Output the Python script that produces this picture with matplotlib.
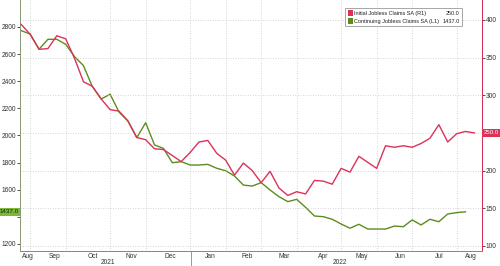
import matplotlib
matplotlib.use("Agg")
import matplotlib.pyplot as plt
import pandas as pd

# weekly data, initial claims (R1) and continuing claims (L1), thousands
initial_claims = [394, 381, 361, 362, 379, 375, 349, 318, 312, 295,
                  281, 279, 266, 244, 241, 229, 228, 220, 212, 224,
                  238, 240, 223, 214, 194, 210, 200, 184, 199, 177,
                  167, 172, 169, 187, 186, 182, 203, 198, 219, 211,
                  203, 233, 231, 233, 231, 236, 243, 261, 238, 249,
                  252, 250]
continuing_claims = [2773, 2748, 2636, 2709, 2709, 2672, 2581, 2515, 2360, 2269,
                     2304, 2173, 2107, 1984, 2094, 1930, 1905, 1799, 1807, 1782,
                     1782, 1787, 1758, 1740, 1701, 1634, 1627, 1652, 1598, 1549,
                     1512, 1529, 1470, 1406, 1401, 1382, 1347, 1316, 1345, 1310,
                     1310, 1310, 1332, 1327, 1377, 1340, 1382, 1364, 1421, 1431,
                     1437]
initial_dates = pd.date_range("2021-08-21", periods=len(initial_claims), freq="7D")
continuing_dates = pd.date_range("2021-08-21", periods=len(continuing_claims), freq="7D")
grid_weeks = [1, 5, 10, 14, 19, 23, 27, 31, 36, 40, 44, 49]
left_ticks = list(range(1200, 2801, 200))
right_ticks = list(range(100, 401, 50))

red = "#dd3159"
green = "#5d8c1e"
txt = "#333333"
narrow = ["Liberation Sans Narrow", "Liberation Sans", "DejaVu Sans"]
plt.rcParams["font.family"] = ["Liberation Sans", "DejaVu Sans"]

fig = plt.figure(figsize=(5, 2.66), dpi=100)
ax = fig.add_axes([0.04, 0.0564, 0.924, 0.9436])
ax2 = ax.twinx()

ax.plot(continuing_dates, continuing_claims, color=green, lw=1.0, zorder=3)
ax2.plot(initial_dates, initial_claims, color=red, lw=1.0, zorder=3)

x0, x1 = pd.Timestamp("2021-08-20"), pd.Timestamp("2022-08-19")
ax.set_xlim(x0, x1)
ax.set_ylim(1148, 2999)
ax2.set_ylim(93.3, 426.5)

# the last-value tags hide the tick label they sit on
ax.set_yticks(left_ticks)
ax.set_yticklabels(["" if v == 1400 else str(v) for v in left_ticks])
ax2.set_yticks(right_ticks)
ax2.set_yticklabels(["" if v == 250 else str(v) for v in right_ticks])
for a in (ax, ax2):
    a.tick_params(axis="y", labelsize=4.8, length=2, width=0.6, pad=0.8,
                  colors=txt)
ax.set_xticks([])

# grid: horizontal from right axis, vertical at selected weeks
for v in right_ticks:
    ax2.axhline(v, color="#c8c8c8", lw=0.6, ls=(0, (1, 2)), zorder=0)
for w in grid_weeks:
    ax.axvline(initial_dates[w], color="#c8c8c8", lw=0.6, ls=(0, (1, 2)), zorder=0)

for a in (ax, ax2):
    a.spines["top"].set_visible(False)
    a.spines["left"].set_color("#8a9a78")
    a.spines["bottom"].set_color("#888888")
    for sp in a.spines.values():
        sp.set_linewidth(0.7)
ax2.spines["right"].set_color(red)

# month labels centred on the visible part of each month
xt = ax.get_xaxis_transform()
months = pd.date_range("2021-08-01", "2022-08-01", freq="MS")
for m in months:
    end = m + pd.offsets.MonthBegin(1)
    a, b = max(m, x0), min(end, x1)
    mid = a + (b - a) / 2
    ax.text(mid, -0.006, m.strftime("%b"), transform=xt,
            ha="center", va="top", fontsize=4.8, color=txt)
ax.text(pd.Timestamp("2021-10-28"), -0.058, "2021", transform=xt,
        ha="center", va="bottom", fontsize=4.8, color=txt)
ax.text(pd.Timestamp("2022-04-29"), -0.058, "2022", transform=xt,
        ha="center", va="bottom", fontsize=4.8, color=txt)
ax.plot([pd.Timestamp("2022-01-02")] * 2, [0, -0.06], transform=xt,
        color="#888888", lw=0.6, clip_on=False)

# last value tags
ax2.text(1.004, initial_claims[-1], "%.1f" % initial_claims[-1],
         transform=ax2.get_yaxis_transform(), ha="left", va="center",
         fontsize=4.4, color="white", zorder=5, family=narrow,
         bbox=dict(boxstyle="square,pad=0.25", fc=red, ec="none"))
ax.text(-0.004, continuing_claims[-1], "%.1f" % continuing_claims[-1],
        transform=ax.get_yaxis_transform(), ha="right", va="center",
        fontsize=4.4, color="#1a1a1a", zorder=5, clip_on=False, family=narrow,
        bbox=dict(boxstyle="square,pad=0.25", fc="#7cb83a", ec="none"))

# legend box
ax2.add_patch(plt.Rectangle((0.704, 0.895), 0.252, 0.072, transform=ax2.transAxes,
                            fc="white", ec="#999999", lw=0.6, zorder=6))
rows = [("Initial Jobless Claims SA (R1)", "%.1f" % initial_claims[-1], red),
        ("Continuing Jobless Claims SA (L1)", "%.1f" % continuing_claims[-1], green)]
for i, (lab, val, c) in enumerate(rows):
    y = 0.948 - i * 0.033
    ax2.add_patch(plt.Rectangle((0.709, y - 0.012), 0.011, 0.024, transform=ax2.transAxes,
                                fc=c, ec="none", zorder=7))
    ax2.text(0.724, y, lab, transform=ax2.transAxes, fontsize=4.0, va="center",
             ha="left", color="#222222", zorder=7, family=narrow)
    ax2.text(0.951, y, val, transform=ax2.transAxes, fontsize=4.0, va="center",
             ha="right", color="#222222", zorder=7, family=narrow)

fig.savefig("out.png", dpi=100)
